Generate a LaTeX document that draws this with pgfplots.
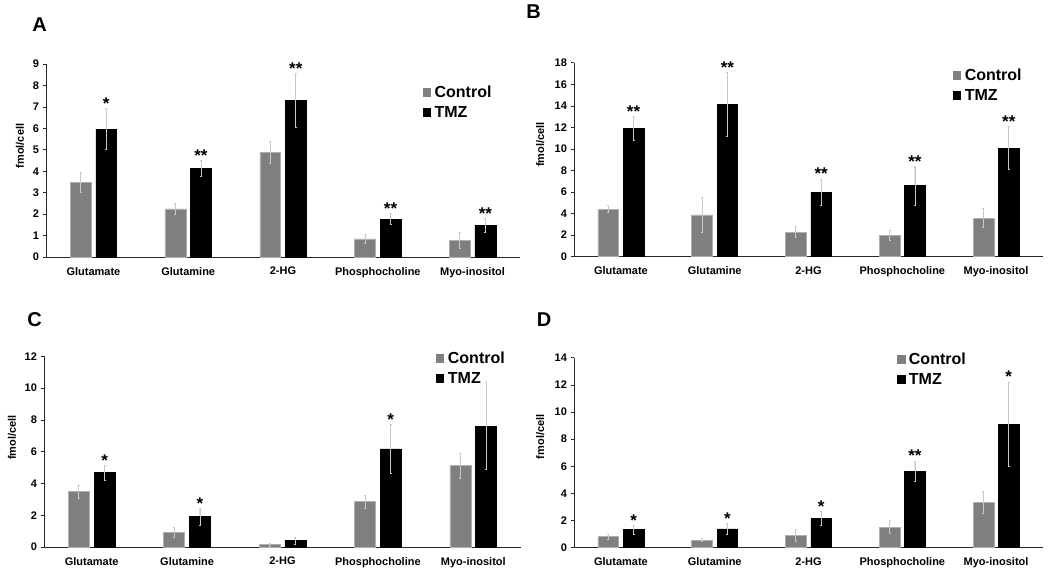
\documentclass[border=0pt]{standalone}
\usepackage{pgfplots}
\usepackage{pgfplotstable}
\pgfplotsset{compat=1.18}
\usepackage{fontspec}
\setmainfont{Liberation Sans}
\definecolor{ctrl}{RGB}{127,127,127}
\definecolor{ctrlb}{RGB}{175,175,175}
\definecolor{errg}{RGB}{200,200,200}
\definecolor{axg}{RGB}{40,40,40}

\pgfplotstableread{
c ce t te st
3.48 0.46 5.96 0.95 *
2.24 0.25 4.15 0.37 **
4.89 0.50 7.31 1.27 **
0.84 0.22 1.77 0.26 **
0.78 0.36 1.48 0.31 **
}\tA
\pgfplotstableread{
c ce t te st
4.42 0.31 11.91 1.08 **
3.87 1.60 14.13 2.94 **
2.29 0.50 5.97 1.24 **
1.98 0.43 6.59 1.79 **
3.59 0.90 10.08 1.98 **
}\tB
\pgfplotstableread{
c ce t te st
3.48 0.40 4.68 0.46 *
0.92 0.30 1.91 0.54 *
0.15 0.10 0.40 0.23 {}
2.85 0.40 6.17 1.53 *
5.12 0.77 7.61 2.75 {}
}\tC
\pgfplotstableread{
c ce t te st
0.81 0.17 1.33 0.32 *
0.56 0.12 1.38 0.42 *
0.91 0.42 2.14 0.52 *
1.52 0.49 5.65 0.74 **
3.32 0.81 9.09 3.12 *
}\tD

\pgfplotsset{
  panel/.style={
    scale only axis, clip=false,
    xmin=-0.5, xmax=4.5, ymin=0,
    axis x line=bottom, axis y line=left,
    axis line style={-, draw=axg, line width=0.9pt},
    xtick={0,1,2,3,4},
    xticklabels={Glutamate,Glutamine,2-HG,Phosphocholine,Myo-inositol},
    xtick style={draw=none},
    ytick align=outside, ytick pos=left,
    ytick style={draw=axg, line width=0.6pt},
    major tick length=3.5pt,
    /pgf/number format/assume math mode=true,
    tick label style={font=\bfseries\fontsize{11}{12}\selectfont},
    xticklabel style={yshift=-5pt},
    ylabel={fmol/cell},
    label style={font=\bfseries\fontsize{11}{12}\selectfont},
    legend cell align=left,
    legend style={draw=none, fill=none, inner sep=0pt, row sep=4.5pt,
      font=\bfseries\fontsize{16}{19}\selectfont,
      nodes={inner ysep=2pt, inner xsep=2pt, text height=11.5pt, text depth=0pt}},
  },
  cbar/.style={ybar, bar width=0.22, bar shift=0, fill=ctrl, draw=ctrlb, line width=0.5pt,
    error bars/.cd, y dir=both, y explicit,
    error bar style={draw=errg, line width=0.7pt},
    error mark options={rotate=90, mark size=1pt, draw=errg, line width=0.7pt}},
  tbar/.style={ybar, bar width=0.22, bar shift=0, fill=black, draw=black, line width=0.5pt,
    error bars/.cd, y dir=both, y explicit,
    error bar style={draw=errg, line width=0.7pt},
    error mark options={rotate=90, mark size=1pt, draw=errg, line width=0.7pt}},
  stars/.style={draw=none, mark=none, nodes near coords, point meta=explicit symbolic,
    every node near coord/.style={anchor=base, inner sep=0pt, yshift=-1pt,
      font=\bfseries\fontsize{17}{17}\selectfont}},
}

\newcommand\panel[1]{%
  \addlegendimage{legend image code/.code={\fill[ctrl] (0pt,-3.6pt) rectangle (7.2pt,3.6pt); \path (9.2pt,0pt);}}
  \addlegendentry{Control}
  \addlegendimage{legend image code/.code={\fill[black] (0pt,-3.6pt) rectangle (7.2pt,3.6pt); \path (9.2pt,0pt);}}
  \addlegendentry{TMZ}
  \addplot[forget plot, cbar] table[x expr=\coordindex-0.135, y=c, y error=ce] {#1};
  \addplot[forget plot, tbar] table[x expr=\coordindex+0.135, y=t, y error=te] {#1};
  \addplot[forget plot, stars] table[x expr=\coordindex+0.135, y expr=\thisrow{t}+\thisrow{te}, meta=st] {#1};
}

\begin{document}
\begin{tikzpicture}
\useasboundingbox (0pt,0pt) rectangle (1050pt,573pt);

\begin{axis}[panel, at={(46pt,316pt)}, anchor=south west, width=474pt, height=193pt,
  ymax=9, ytick={0,1,...,9},
  ylabel style={at={(axis description cs:-0.055,0.575)}, anchor=center},
  legend style={at={(0.795,0.895)}, anchor=north west}]
\panel{\tA}
\end{axis}

\begin{axis}[panel, at={(574pt,316.3pt)}, anchor=south west, width=469pt, height=194pt,
  ymax=18, ytick={0,2,...,18},
  ylabel style={at={(axis description cs:-0.072,0.578)}, anchor=center},
  legend style={at={(0.808,0.977)}, anchor=north west}]
\panel{\tB}
\end{axis}

\begin{axis}[panel, at={(44pt,26pt)}, anchor=south west, width=477pt, height=190.7pt,
  ymax=12, ytick={0,2,...,12},
  ylabel style={at={(axis description cs:-0.067,0.574)}, anchor=center},
  legend style={at={(0.822,1.032)}, anchor=north west}]
\panel{\tC}
\end{axis}

\begin{axis}[panel, at={(574pt,25.3pt)}, anchor=south west, width=469pt, height=190pt,
  ymax=14, ytick={0,2,...,14},
  ylabel style={at={(axis description cs:-0.072,0.584)}, anchor=center},
  legend style={at={(0.689,1.034)}, anchor=north west}]
\panel{\tD}
\end{axis}

\node[font=\bfseries\fontsize{20}{20}\selectfont] at (39.5pt,548pt) {A};
\node[font=\bfseries\fontsize{20}{20}\selectfont] at (533.5pt,561pt) {B};
\node[font=\bfseries\fontsize{20}{20}\selectfont] at (34.5pt,253pt) {C};
\node[font=\bfseries\fontsize{20}{20}\selectfont] at (544pt,253pt) {D};
\end{tikzpicture}
\end{document}
